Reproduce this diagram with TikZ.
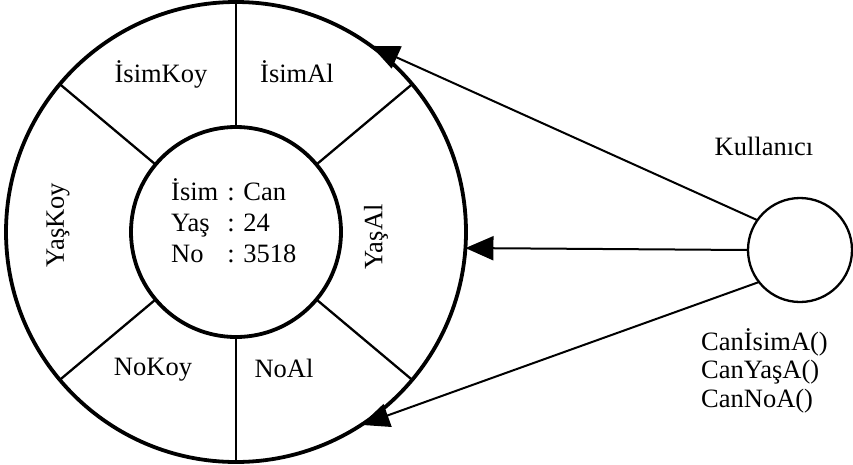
\documentclass[tikz,border=0pt]{standalone}
\usepackage{fontspec}
\setmainfont{Liberation Serif}
\usetikzlibrary{arrows.meta}
\begin{document}
\begin{tikzpicture}[x=1pt,y=-1pt,
  ring/.style={draw,circle,line width=3.8pt,outer sep=0pt,inner sep=0pt},
  spoke/.style={line width=2.3pt},
  lbl/.style={font=\fontsize{26.5}{31}\selectfont,inner sep=0pt},
  arr/.style={line width=2pt,-{Triangle[length=28pt,width=24pt]}}]
\useasboundingbox (0,0) rectangle (853,464);

% object: outer ring of methods and inner core of data
\node[ring,minimum size=460pt] (outer) at (236,232) {};
\node[ring,minimum size=210pt] (inner) at (236,232) {};
\foreach \a in {40,90,140,220,270,320}
  \draw[spoke] (inner.\a) -- (outer.\a);

% method names
\node[lbl,anchor=base] (isimkoy) at (161,82) {İsimKoy};
\node[lbl,anchor=base] (isimal) at (297,82) {İsimAl};
\node[lbl,rotate=90] (yaskoy) at (58,225) {YaşKoy};
\node[lbl,rotate=90] (yasal) at (376,237) {YaşAl};
\node[lbl,anchor=base] (nokoy) at (153,375) {NoKoy};
\node[lbl,anchor=base] (noal) at (284,377) {NoAl};

% data fields
\node[lbl,anchor=base west] (data) at (171,200)
  {\begin{tabular}[t]{@{}l@{\hspace{9pt}}l@{}}İsim & : Can\\ Yaş & : 24\\ No & : 3518\end{tabular}};

% user and messages
\node[draw,circle,line width=2.3pt,minimum size=104pt,inner sep=0pt,outer sep=0pt] (user) at (800,250) {};
\node[lbl,anchor=base] (kullanici) at (764,155) {Kullanıcı};
\node[lbl,anchor=base west] (m1) at (701,350) {CanİsimA()};
\node[lbl,anchor=base west] (m2) at (701,378) {CanYaşA()};
\node[lbl,anchor=base west] (m3) at (701,407) {CanNoA()};

\draw[arr] (user.145) -- (outer.54);
\draw[arr] (user.180) -- (outer.-4);
\draw[arr] (user.218) -- (outer.-57);
\end{tikzpicture}
\end{document}
